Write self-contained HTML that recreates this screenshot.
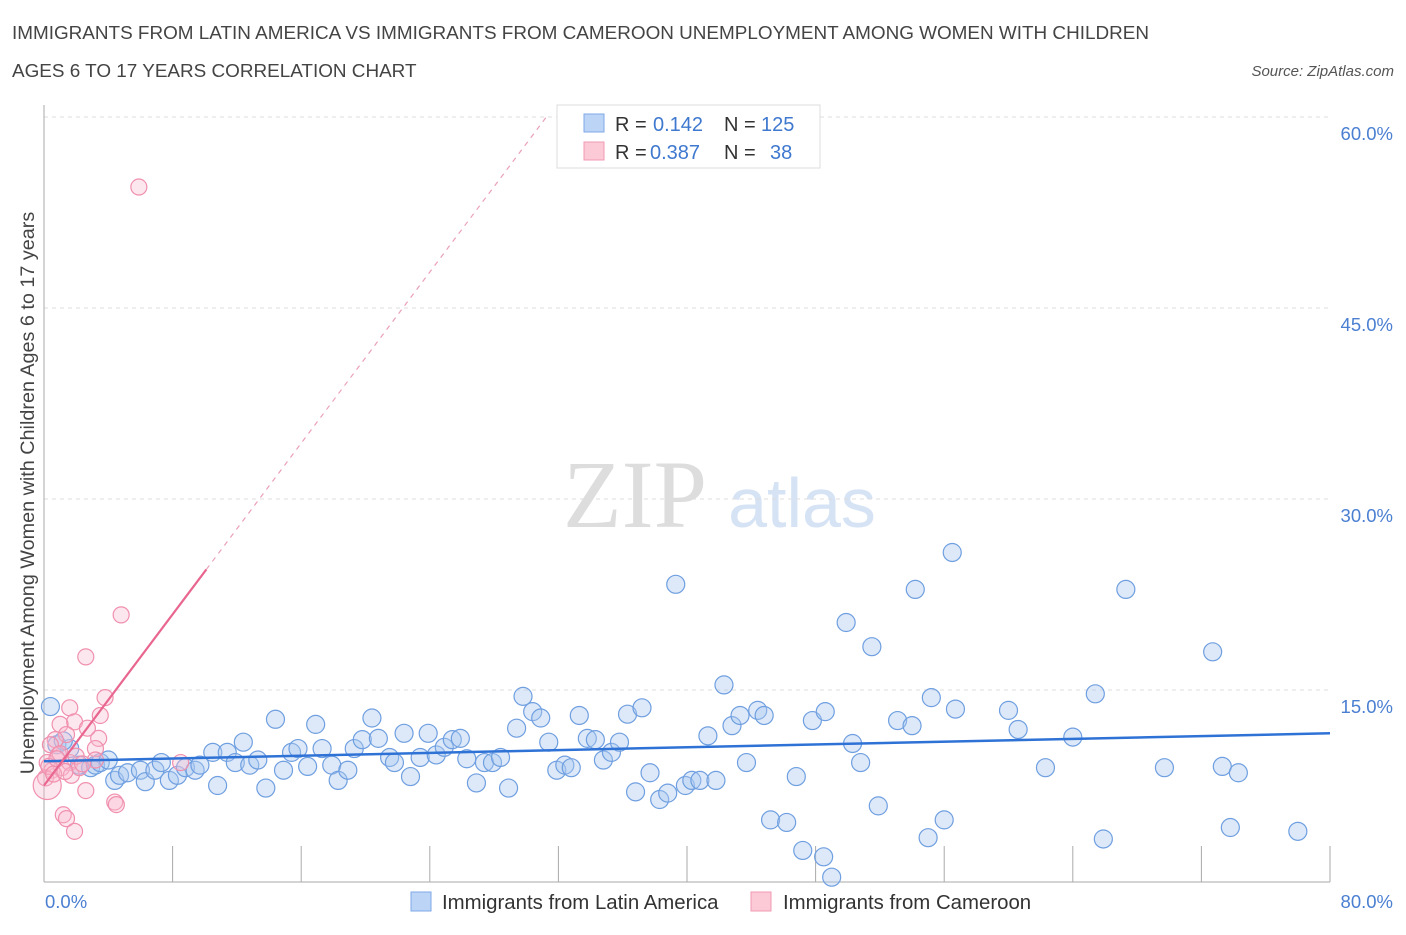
<!DOCTYPE html>
<html><head><meta charset="utf-8"><style>
body{margin:0;background:#fff;font-family:"Liberation Sans",sans-serif}
svg text{font-family:"Liberation Sans",sans-serif}
</style></head><body>
<svg id="c" width="1406" height="930" xmlns="http://www.w3.org/2000/svg">
<text x="12" y="39" font-size="18.9" fill="#444">IMMIGRANTS FROM LATIN AMERICA VS IMMIGRANTS FROM CAMEROON UNEMPLOYMENT AMONG WOMEN WITH CHILDREN</text>
<text x="12" y="77" font-size="18.9" fill="#444">AGES 6 TO 17 YEARS CORRELATION CHART</text>
<text x="1394" y="76" font-size="15" fill="#555" font-style="italic" text-anchor="end">Source: ZipAtlas.com</text>
<g>
<text x="635" y="527" font-size="96" fill="#ddd" text-anchor="middle" style="font-family:'Liberation Serif',serif">ZIP</text>
<text x="802" y="527" font-size="70" fill="#d5e3f5" text-anchor="middle">atlas</text>
</g>
<g id="grid"></g>
<g id="axes"></g>
<g id="pts"></g>
<g id="trend"></g>
<text x="34" y="493" font-size="19.8" fill="#444" text-anchor="middle" transform="rotate(-90 34 493)">Unemployment Among Women with Children Ages 6 to 17 years</text>
<g>
<rect x="557" y="105" width="263" height="63" fill="#fff" stroke="#ddd"/>
<rect x="584" y="114" width="20" height="18" fill="#bcd4f5" stroke="#7ea8e6"/>
<rect x="584" y="142" width="20" height="18" fill="#fcc9d7" stroke="#f09ab3"/>
<text x="615" y="131" font-size="20" fill="#333">R =</text>
<text x="653" y="131" font-size="20" fill="#3f78cf">0.142</text>
<text x="724" y="131" font-size="20" fill="#333">N =</text>
<text x="761" y="131" font-size="20" fill="#3f78cf">125</text>
<text x="615" y="159" font-size="20" fill="#333">R =</text>
<text x="650" y="159" font-size="20" fill="#3f78cf">0.387</text>
<text x="724" y="159" font-size="20" fill="#333">N =</text>
<text x="770" y="159" font-size="20" fill="#3f78cf">38</text>
</g>
<g>
<rect x="411" y="892" width="20" height="19" fill="#bcd4f5" stroke="#7ea8e6"/>
<text x="442" y="909" font-size="20.4" fill="#333">Immigrants from Latin America</text>
<rect x="751" y="892" width="20" height="19" fill="#fcc9d7" stroke="#f09ab3"/>
<text x="783" y="909" font-size="20.4" fill="#333">Immigrants from Cameroon</text>
</g>
</svg>
<script>
const xTicks=[0,80];
const yTicks=[15,30,45,60];
const blueX=[0.4,0.8,1.6,2.2,2.9,3.2,3.5,4.0,4.4,4.7,5.2,6.0,6.3,6.9,7.3,7.8,8.3,8.8,9.4,9.7,10.5,10.8,11.4,11.9,12.4,12.8,13.3,13.8,14.4,14.9,15.4,15.8,16.4,16.9,17.3,17.9,18.3,18.9,19.3,19.8,20.4,20.8,21.5,21.8,22.4,22.8,23.4,23.9,24.4,24.9,25.4,25.9,26.3,26.9,27.4,27.9,28.4,28.9,29.4,29.8,30.4,30.9,31.4,31.9,32.4,32.8,33.3,33.8,34.3,34.8,35.3,35.8,36.3,36.8,37.2,37.7,38.3,38.8,39.3,39.9,40.3,40.8,41.3,41.8,42.3,42.8,43.3,43.7,44.4,44.8,45.2,46.2,46.8,47.2,47.8,48.5,48.6,49.0,49.9,50.3,50.8,51.5,51.9,53.1,54.0,54.2,55.0,55.2,56.0,56.5,56.7,60.0,60.6,62.3,64.0,65.4,65.9,67.3,69.7,72.7,73.3,73.8,74.3,78.0,1.2];
const blueY=[13.7,10.7,10.4,9.1,8.9,9.1,9.3,9.5,7.9,8.3,8.5,8.7,7.8,8.7,9.3,7.9,8.3,8.9,8.7,9.1,10.1,7.5,10.1,9.3,10.9,9.1,9.5,7.3,12.7,8.7,10.1,10.4,9.0,12.3,10.4,9.1,7.9,8.7,10.4,11.1,12.8,11.2,9.7,9.3,11.6,8.2,9.7,11.6,9.9,10.5,11.1,11.2,9.6,7.7,9.3,9.3,9.7,7.3,12.0,14.5,13.3,12.8,10.9,8.7,9.1,8.9,13.0,11.2,11.1,9.5,10.1,10.9,13.1,7.0,13.6,8.5,6.4,6.9,23.3,7.5,7.9,7.9,11.4,7.9,15.4,12.2,13.0,9.3,13.4,13.0,4.8,4.6,8.2,2.4,12.6,1.9,13.3,0.3,20.3,10.8,9.3,18.4,5.9,12.6,12.2,22.9,3.4,14.4,4.8,25.8,13.5,13.4,11.9,8.9,11.3,14.7,3.3,22.9,8.9,18.0,9.0,4.2,8.5,3.9,11.0];
const pinkX=[5.9,4.8,2.6,3.8,3.5,3.4,3.2,1.6,1.9,1.0,2.7,1.4,0.7,0.4,0.9,0.2,0.5,1.1,0.1,0.2,1.6,1.7,2.2,4.4,4.5,1.2,1.4,1.9,8.5,3.2,2.6,0.3,1.0,2.0,0.6,1.3,2.4,0.8];
const pinkY=[54.5,20.9,17.6,14.4,13.0,11.2,10.4,13.6,12.5,12.3,12.0,11.5,11.1,10.7,9.9,9.3,8.7,8.9,8.1,7.5,9.3,8.3,8.9,6.2,6.0,5.2,4.9,3.9,9.3,9.5,7.1,9.0,10.0,9.8,8.4,8.6,9.2,9.6];
const blueTrend=[9.4,11.6];
const pinkTrend=[7.5,1.68];
const X=v=>44+v/80*1286, Y=v=>881-v/15*191;
const ns="http://www.w3.org/2000/svg";
function mk(p,t,a){const e=document.createElementNS(ns,t);for(const k in a)e.setAttribute(k,a[k]);p.appendChild(e);return e;}
const g=document.getElementById('grid'),ax=document.getElementById('axes'),pts=document.getElementById('pts'),tr=document.getElementById('trend');
yTicks.forEach(v=>{const l=mk(g,'line',{x1:44,x2:1330,y1:Y(v),y2:Y(v),stroke:'#ddd','stroke-dasharray':'4 4'});


const t=mk(ax,'text',{x:1393,y:Y(v)+23,'font-size':18.5,fill:'#4a7fd1','text-anchor':'end'});t.textContent=v.toFixed(1)+'%';

});
mk(ax,'line',{x1:44,x2:44,y1:105,y2:882,stroke:'#aaa'});
mk(ax,'line',{x1:44,x2:1330,y1:882,y2:882,stroke:'#aaa'});
for(let i=1;i<=10;i++){const l=mk(ax,'line',{x1:X(i*8),x2:X(i*8),y1:846,y2:882,stroke:'#aaa'});

}
xTicks.forEach((v,i)=>{const t=mk(ax,'text',{x:i?1393:45,y:908,'font-size':18.5,fill:'#4a7fd1','text-anchor':i?'end':'start'});t.textContent=v.toFixed(1)+'%';

});
blueX.forEach((x,i)=>{const c=mk(pts,'circle',{cx:X(x),cy:Y(blueY[i]),r:9,fill:'rgba(170,200,240,0.4)',stroke:'#6f9fe0','stroke-width':1.2});

});
pinkX.forEach((x,i)=>{const c=mk(pts,'circle',{cx:X(x),cy:Y(pinkY[i]),r:i==19?14:8,fill:'rgba(248,185,205,0.35)',stroke:'#f090ae','stroke-width':1.2});

});
let l=mk(tr,'line',{x1:X(0),y1:Y(blueTrend[0]),x2:X(80),y2:Y(blueTrend[1]),stroke:'#2f72d6','stroke-width':2.5});


const pf=x=>pinkTrend[0]+pinkTrend[1]*x, xe=(60-pinkTrend[0])/pinkTrend[1];
l=mk(tr,'line',{x1:X(0),y1:Y(pf(0)),x2:X(10.1),y2:Y(pf(10.1)),stroke:'#e8668f','stroke-width':2.2});


l=mk(tr,'line',{x1:X(10.1),y1:Y(pf(10.1)),x2:X(xe),y2:Y(60),stroke:'#eaa0b8','stroke-width':1.2,'stroke-dasharray':'5 5'});


</script>
</body></html>
